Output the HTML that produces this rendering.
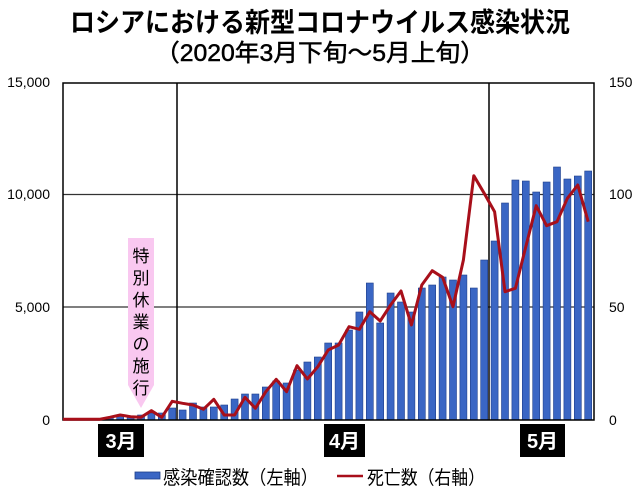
<!DOCTYPE html>
<html><head><meta charset="utf-8"><style>
html,body{margin:0;padding:0;background:#fff;}
svg{display:block;font-family:"Liberation Sans","Noto Sans CJK JP",sans-serif;}
</style></head><body>
<svg id="s" width="639" height="490" viewBox="0 0 639 490" xmlns="http://www.w3.org/2000/svg">
<text x="320" y="32" text-anchor="middle" font-size="27" font-weight="bold" fill="#000" textLength="500" lengthAdjust="spacingAndGlyphs">ロシアにおける新型コロナウイルス感染状況</text>
<text x="320" y="61" text-anchor="middle" font-size="24" fill="#000" textLength="330" lengthAdjust="spacingAndGlyphs" stroke="#000" stroke-width="0.5">（2020年3月下旬～5月上旬）</text>
<g font-size="14" fill="#000">
<text x="50" y="87" text-anchor="end">15,000</text>
<text x="50" y="199" text-anchor="end">10,000</text>
<text x="50" y="312" text-anchor="end">5,000</text>
<text x="50" y="425" text-anchor="end">0</text>
<text x="609" y="87">150</text>
<text x="609" y="199">100</text>
<text x="609" y="312">50</text>
<text x="609" y="425">0</text>
</g>
<g stroke="#333" stroke-width="1.2">
<line x1="63" y1="194.5" x2="594" y2="194.5"/>
<line x1="63" y1="307" x2="594" y2="307"/>
</g>
<g id="bars"></g>
<g stroke="#000" stroke-width="1.5" fill="none">
<line x1="177" y1="83" x2="177" y2="420"/>
<line x1="489" y1="83" x2="489" y2="420"/>
<rect x="63" y="83" width="531" height="337"/>
</g>
<polyline id="ln" fill="none" stroke="#a80f1a" stroke-width="3" stroke-linejoin="round"/>
<path d="M128 238 H154 V385 L141 408 L128 385 Z" fill="#f9c8f0"/>
<g font-size="17" fill="#000" text-anchor="middle">
<text x="141" y="262">特</text><text x="141" y="284">別</text><text x="141" y="306">休</text><text x="141" y="328">業</text><text x="141" y="350">の</text><text x="141" y="372">施</text><text x="141" y="394">行</text>
</g>
<rect x="98" y="424" width="46" height="33" fill="#000"/>
<rect x="324" y="424" width="41" height="33" fill="#000"/>
<rect x="520" y="424" width="45" height="33" fill="#000"/>
<g font-size="20" font-weight="bold" fill="#fff" text-anchor="middle">
<text x="121" y="448">3月</text><text x="344.5" y="448">4月</text><text x="542.5" y="448">5月</text>
</g>
<rect x="135" y="472" width="25" height="7" fill="#3a66c4" stroke="#1f3f8a" stroke-width="0.8"/>
<text x="163" y="484" font-size="19" fill="#000" textLength="155" lengthAdjust="spacingAndGlyphs">感染確認数（左軸）</text>
<line x1="337" y1="476" x2="363" y2="476" stroke="#a80f1a" stroke-width="2.5"/>
<text x="367" y="484" font-size="19" fill="#000" textLength="118" lengthAdjust="spacingAndGlyphs">死亡数（右軸）</text>
</svg>
<script>
var bh=[0,0,0,0,3,4,4,5,7,7,12,10,17,13,13,15,21,26,26,33,39,37,50,58,63,77,77,90,108,137,97,127,118,108,132,135,143,140,145,132,160,179,217,240,239,228,238,253,241,244,249];
var z1=[778,778,778,778,772,765,770,772,752,772,724,730,735,748,718,765,765,712,745,695,658,695,617,657,620,570];
var z2=[555,500,508,455,483,435,393,495,375,332,352,440,300,47,100,155,395,385,260,137,197,185,115,75,185];
var ly=z1.concat(z2).map(function(v){return v/3+160;});
var g=document.getElementById('bars'),ns='http://www.w3.org/2000/svg',pts=[];
for(var i=0;i<51;i++){var cx=63+10.4*(i+0.5);
 if(bh[i]>0){var r=document.createElementNS(ns,'rect');r.setAttribute('x',cx-3.5);r.setAttribute('y',420-bh[i]);r.setAttribute('width',7);r.setAttribute('height',bh[i]);r.setAttribute('fill','#3a66c4');r.setAttribute('stroke','#1f3f8a');r.setAttribute('stroke-width','0.6');g.appendChild(r);}
 pts.push(cx.toFixed(1)+','+ly[i].toFixed(1));}
pts.unshift('63,419.3');
document.getElementById('ln').setAttribute('points',pts.join(' '));
</script>
</body></html>
